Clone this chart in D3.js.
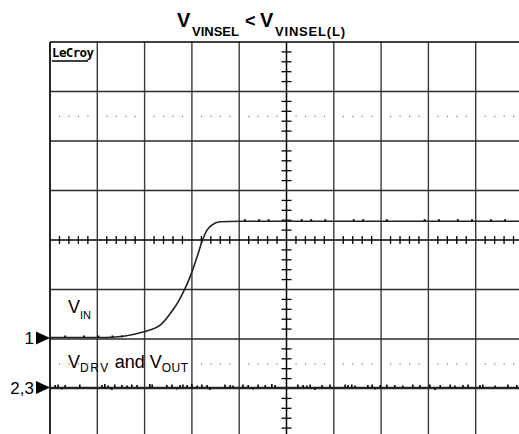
<!DOCTYPE html>
<html>
<head>
<meta charset="utf-8">
<script src="https://cdn.jsdelivr.net/npm/d3@7"></script>
<style>
  body { margin: 0; background: #fff; }
  svg { display: block; font-family: "Liberation Sans", Arial, sans-serif; }
</style>
</head>
<body>
<svg id="scope" width="519" height="434"></svg>
<script>
// time in screen divisions, voltage in divisions above each channel's ground marker
const vinTime = [0, 1.2, 1.59, 1.97, 2.11, 2.33, 2.60, 2.71, 2.81, 2.96, 3.11, 3.21, 3.32, 3.42, 3.59, 4.02, 10];
const vinVolts = [0.01, 0.01, 0.04, 0.12, 0.16, 0.26, 0.57, 0.73, 0.91, 1.23, 1.64, 1.94, 2.18, 2.28, 2.35, 2.36, 2.36];
const vinSpeckTime = [0.3, 0.7, 1.0, 1.3, 1.5, 4.1, 4.4, 4.6, 5.3, 5.5, 5.8, 6.4, 6.6, 7.1, 7.9, 8.2, 8.6, 8.9, 9.3, 9.6];
const drvNoiseTime = [0.11, 0.17, 0.25, 0.32, 0.63, 1.10, 1.16, 1.23, 1.31, 1.37, 1.52, 1.63, 1.73, 1.84, 2.11, 2.16,
  2.47, 2.58, 2.68, 2.75, 2.81, 2.90, 3.00, 3.11, 3.21, 3.32, 3.38, 3.70, 3.81, 3.87, 4.08, 4.19, 4.29, 4.40, 4.55,
  4.69, 4.76, 5.24, 5.35, 5.43, 5.50, 5.60, 5.75, 5.92, 6.24, 6.30, 6.38, 6.45, 6.72, 6.81, 6.87, 6.98, 7.12, 7.29,
  7.46, 7.67, 7.82, 8.03, 8.14, 8.25, 8.46, 8.56, 8.73, 8.84, 9.09, 9.15, 9.41, 9.68, 9.87];
const drvNoiseVolts = [0.05, 0.06, -0.04, 0.05, 0.06, 0.05, 0.07, 0.04, -0.05, 0.06, 0.05, 0.04, 0.06, 0.05, 0.07, 0.06,
  0.05, 0.06, -0.04, 0.05, 0.06, 0.05, 0.07, 0.04, 0.06, 0.05, -0.05, 0.06, 0.05, 0.04, 0.06, 0.05, -0.04, 0.06, 0.05,
  0.07, 0.05, 0.06, 0.05, 0.04, 0.06, -0.05, 0.05, 0.06, 0.06, 0.05, 0.06, 0.04, 0.05, 0.06, -0.04, 0.05, 0.06, 0.05,
  0.04, 0.06, 0.05, 0.06, -0.05, 0.05, 0.06, 0.04, 0.05, 0.06, 0.05, 0.06, 0.04, 0.06, 0.05];
const channels = [
  { label: '1', ground: -1.98 },
  { label: '2,3', ground: -2.98 }
];

const svg = d3.select('#scope');
const x = d3.scaleLinear().domain([0, 10]).range([50, 523]);
const y = d3.scaleLinear().domain([-4, 4]).range([438, 42]);

const grid = svg.append('g');
// major divisions
grid.selectAll('.vline').data(d3.range(1, 10)).enter().append('line')
  .attr('x1', d => x(d)).attr('x2', d => x(d)).attr('y1', y(4)).attr('y2', 434)
  .attr('stroke', d => d == 5 ? '#000' : '#3a3a3a').attr('stroke-width', d => d == 5 ? 1.5 : 1.4);
grid.selectAll('.hline').data(d3.range(-3, 4)).enter().append('line')
  .attr('x1', x(0)).attr('x2', 519).attr('y1', d => y(d)).attr('y2', d => y(d))
  .attr('stroke', d => d == 0 ? '#000' : '#2a2a2a').attr('stroke-width', d => d == 0 ? 1.5 : 1.4);

// minor ticks on the centre axes
const minor = d3.range(0, 50).map(i => i / 5).filter(v => Math.abs(v - Math.round(v)) > 0.01);
grid.selectAll('.xtick').data(minor).enter().append('line')
  .attr('x1', d => x(d)).attr('x2', d => x(d)).attr('y1', y(0) - 4).attr('y2', y(0) + 4)
  .attr('stroke', '#000').attr('stroke-width', 1.3);
const minorY = d3.range(-20, 20).map(i => i / 5).filter(v => Math.abs(v - Math.round(v)) > 0.01);
grid.selectAll('.ytick').data(minorY).enter().append('line')
  .attr('x1', x(5) - 5).attr('x2', x(5) + 5).attr('y1', d => y(d)).attr('y2', d => y(d))
  .attr('stroke', '#000').attr('stroke-width', 1.3);

// dotted rows
[2.5, -2.5].forEach(row => {
  grid.selectAll(null).data(minor).enter().append('rect')
    .attr('x', d => x(d) - 0.5).attr('y', y(row) - 0.5).attr('width', 1.2).attr('height', 1.2)
    .attr('fill', '#777');
});

// border
grid.append('line').attr('x1', x(0)).attr('x2', 519).attr('y1', y(4)).attr('y2', y(4)).attr('stroke', '#000').attr('stroke-width', 1.7);
grid.append('line').attr('x1', x(0)).attr('x2', x(0)).attr('y1', y(4)).attr('y2', 434).attr('stroke', '#000').attr('stroke-width', 1.7);

// traces
const vin = vinTime.map((t, i) => ({ t, v: vinVolts[i] + channels[0].ground }));
const line = d3.line().x(d => x(d.t)).y(d => y(d.v)).curve(d3.curveMonotoneX);
svg.append('path').attr('d', line(vin)).attr('fill', 'none').attr('stroke', '#222').attr('stroke-width', 1.6);
svg.selectAll('.vspeck').data(vinSpeckTime).enter().append('rect')
  .attr('x', d => x(d)).attr('y', d => y((d < 3 ? 0.01 : 2.36) + channels[0].ground) - 2)
  .attr('width', 2).attr('height', 1.8).attr('fill', '#111');

const g23 = channels[1].ground;
svg.append('line').attr('x1', x(0)).attr('x2', 519).attr('y1', y(g23)).attr('y2', y(g23))
  .attr('stroke', '#222').attr('stroke-width', 1.5);
svg.selectAll('.dnoise').data(drvNoiseTime).enter().append('line')
  .attr('x1', d => x(d)).attr('x2', d => x(d))
  .attr('y1', y(g23)).attr('y2', (d, i) => y(g23 + drvNoiseVolts[i]))
  .attr('stroke', '#000').attr('stroke-width', 1.6);

// ground markers
channels.forEach(c => {
  const yy = y(c.ground);
  svg.append('path').attr('d', `M36,${yy - 6.5}L50,${yy}L36,${yy + 6.5}Z`).attr('fill', '#000');
  svg.append('text').attr('x', 34).attr('y', yy + 6).attr('text-anchor', 'end')
    .attr('font-size', 17).text(c.label);
});

// labels
const vinLabel = svg.append('text').attr('x', 68).attr('y', 313).attr('font-size', 18);
vinLabel.append('tspan').text('V');
vinLabel.append('tspan').attr('dy', 6).attr('font-size', 11).text('IN');

const drvLabel = svg.append('text').attr('x', 68).attr('y', 368).attr('font-size', 18);
drvLabel.append('tspan').text('V');
drvLabel.append('tspan').attr('dy', 4).attr('font-size', 12).attr('letter-spacing', 1.5).text('DRV');
drvLabel.append('tspan').attr('dy', -4).text(' and V');
drvLabel.append('tspan').attr('dy', 4).attr('font-size', 12).attr('letter-spacing', 0.5).text('OUT');

// title
const title = svg.append('g').attr('font-weight', 'bold');
title.append('text').attr('x', 177).attr('y', 27).attr('font-size', 20).text('V');
title.append('text').attr('x', 192).attr('y', 36).attr('font-size', 13).attr('textLength', 47).text('VINSEL');
title.append('text').attr('x', 245).attr('y', 27).attr('font-size', 18).text('<');
title.append('text').attr('x', 260).attr('y', 27).attr('font-size', 20).text('V');
title.append('text').attr('x', 275).attr('y', 36).attr('font-size', 13).attr('textLength', 70).text('VINSEL(L)');

// scope logo
svg.append('text').attr('x', 52).attr('y', 57).attr('font-family', '"DejaVu Sans Mono", monospace')
  .attr('font-weight', 'bold').attr('font-size', 12.5).attr('textLength', 42).text('LeCroy');
svg.append('line').attr('x1', 52).attr('x2', 88).attr('y1', 61).attr('y2', 61).attr('stroke', '#000').attr('stroke-width', 1.5);
</script>
</body>
</html>
